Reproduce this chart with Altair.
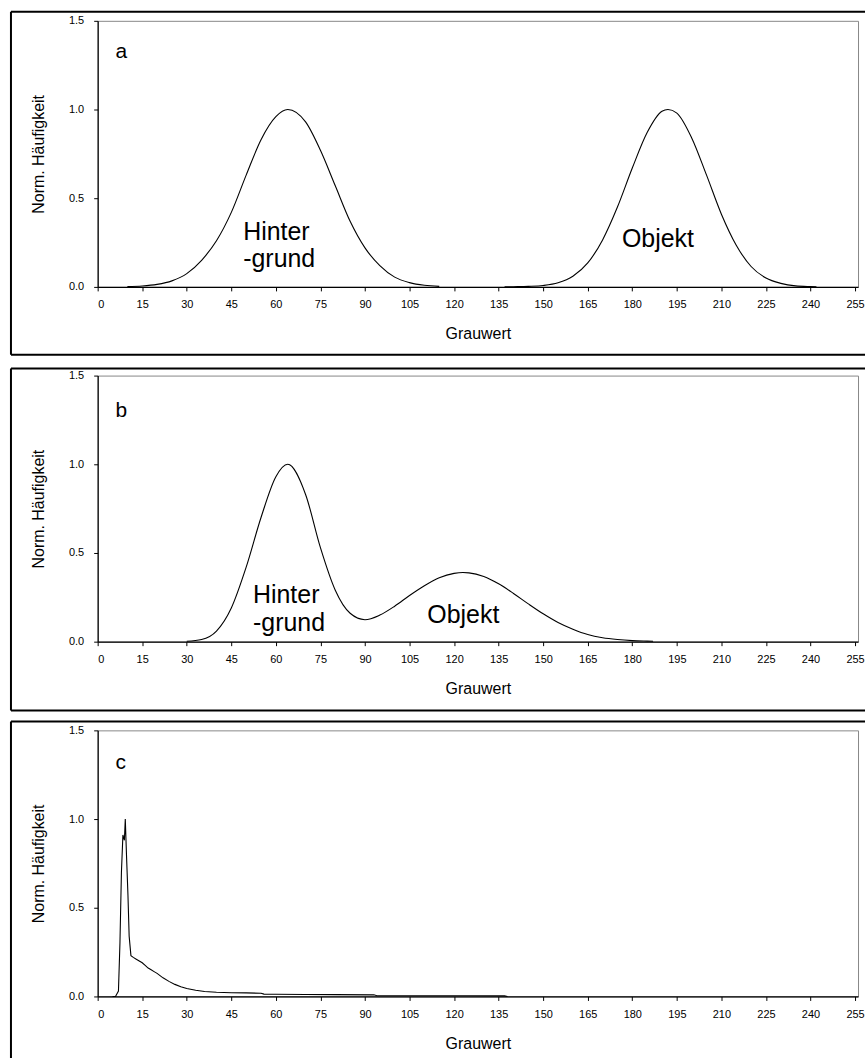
import altair as alt
import pandas as pd

FONT = "Liberation Sans"

# Panel a: two separated peaks
a_bg_x = [10, 15, 20, 25, 30, 35, 40, 45, 50, 55, 60, 64, 70, 75, 80, 85, 90, 95, 100, 105, 110, 115]
a_bg_y = [0.002, 0.005, 0.014, 0.034, 0.075, 0.15, 0.26, 0.42, 0.63, 0.83, 0.96, 1.0, 0.93, 0.77,
          0.57, 0.37, 0.22, 0.12, 0.055, 0.024, 0.009, 0.003]
a_ob_x = [137, 140, 145, 150, 155, 160, 165, 170, 175, 180, 185, 190, 192, 195, 200, 205, 210, 215,
          220, 225, 230, 235, 240, 242]
a_ob_y = [0.0, 0.001, 0.003, 0.008, 0.023, 0.06, 0.135, 0.265, 0.45, 0.67, 0.87, 0.99, 1.0, 0.98,
          0.84, 0.63, 0.41, 0.235, 0.115, 0.05, 0.02, 0.006, 0.002, 0.001]

# Panel b: overlapping peaks
b_x = [30, 35, 40, 45, 50, 55, 60, 64, 70, 75, 80, 85, 90, 95, 100, 105, 110, 115, 120, 123, 125,
       130, 135, 140, 145, 150, 155, 160, 165, 170, 175, 180, 185, 187]
b_y = [0.002, 0.012, 0.06, 0.19, 0.42, 0.70, 0.93, 1.0, 0.83, 0.53, 0.29, 0.16, 0.124, 0.15, 0.2,
       0.26, 0.315, 0.36, 0.385, 0.39, 0.388, 0.367, 0.326, 0.272, 0.213, 0.157, 0.108, 0.07, 0.04,
       0.022, 0.012, 0.006, 0.003, 0.002]

# Panel c: sharp peak with long tail
c_x = [5, 6, 7, 7.5, 8, 8.5, 9, 9.3, 9.7, 10.2, 10.6, 11.2, 12, 13, 14, 15, 16, 17, 18, 19, 20, 22,
       24, 26, 28, 30, 33, 36, 40, 45, 50, 55, 56, 60, 70, 80, 93, 94, 110, 125, 137, 138]
c_y = [0.0, 0.0, 0.03, 0.30, 0.70, 0.91, 0.88, 1.0, 0.80, 0.57, 0.34, 0.23, 0.22, 0.21, 0.20, 0.19,
       0.175, 0.16, 0.15, 0.14, 0.13, 0.105, 0.085, 0.068, 0.055, 0.045, 0.035, 0.028, 0.024, 0.021,
       0.02, 0.018, 0.013, 0.012, 0.011, 0.010, 0.009, 0.004, 0.004, 0.004, 0.003, 0.0]

x_ticks = list(range(0, 256, 15))
y_ticks = [0.0, 0.5, 1.0, 1.5]

# annotations (data coordinates)
a_labels = ["a", "Hinter", "-grund", "Objekt"]
a_lab_x = [6, 49, 49, 176.5]
a_lab_y = [1.29, 0.264, 0.112, 0.225]
a_lab_size = [21, 25, 25, 25]
b_labels = ["b", "Hinter", "-grund", "Objekt"]
b_lab_x = [6, 52.3, 52.3, 111]
b_lab_y = [1.264, 0.219, 0.062, 0.107]
b_lab_size = [21, 25, 25, 25]
c_labels = ["c"]
c_lab_x = [6]
c_lab_y = [1.28]
c_lab_size = [21]

W, H = 763, 267

xs = alt.Scale(domain=[0, 256], nice=False, zero=False)
ys = alt.Scale(domain=[0, 1.5], nice=False)

common = dict(grid=False, domainColor="black", tickColor="black", labelColor="black",
              titleColor="black", labelFont=FONT, labelFontSize=11, titleFont=FONT,
              titleFontSize=16, titleFontWeight="normal", domainWidth=1.2, tickWidth=1)

x_axis = alt.Axis(values=x_ticks, title="Grauwert", titleY=47, titleX=W / 2,
                  titleBaseline="middle", titleAlign="center", labelPadding=8, tickSize=4, **common)
y_axis = alt.Axis(values=y_ticks, format=".1f", title="Norm. Häufigkeit", titleX=-59, titleY=H / 2,
                  titleAngle=270, titleAlign="center", titleBaseline="middle",
                  labelPadding=10, tickSize=4, **common)


def panel(df_line, labels, lx, ly, lsize, box_top, box_bottom):
    line = alt.Chart(df_line).mark_line(color="black", strokeWidth=1.1,
                                        interpolate=df_line["interp"].iloc[0]).encode(
        x=alt.X("x:Q", scale=xs, axis=x_axis),
        y=alt.Y("y:Q", scale=ys, axis=y_axis),
        detail="s:N",
    )
    tdf = pd.DataFrame({"x": lx, "y": ly, "t": labels, "size": lsize})
    text = alt.Chart(tdf).mark_text(align="left", baseline="alphabetic", font=FONT, color="black").encode(
        x=alt.X("x:Q", scale=xs),
        y=alt.Y("y:Q", scale=ys),
        text="t:N",
        size=alt.Size("size:Q", scale=None, legend=None),
    )
    one = pd.DataFrame({"k": [0]})
    rules = [
        alt.Chart(one).mark_rule(color="black", strokeWidth=2).encode(
            x=alt.value(-87), x2=alt.value(770), y=alt.value(box_top)),
        alt.Chart(one).mark_rule(color="black", strokeWidth=2).encode(
            x=alt.value(-87), y=alt.value(box_top), y2=alt.value(box_bottom)),
    ]
    if box_bottom < 340:
        rules.append(alt.Chart(one).mark_rule(color="black", strokeWidth=2).encode(
            x=alt.value(-87), x2=alt.value(770), y=alt.value(box_bottom)))
    return alt.layer(line, text, *rules).properties(width=W, height=H)


df_a = pd.DataFrame({
    "x": a_bg_x + a_ob_x,
    "y": a_bg_y + a_ob_y,
    "s": ["bg"] * len(a_bg_x) + ["ob"] * len(a_ob_x),
})
df_a["interp"] = "monotone"
df_b = pd.DataFrame({"x": b_x, "y": b_y, "s": ["b"] * len(b_x)})
df_b["interp"] = "monotone"
df_c = pd.DataFrame({"x": c_x, "y": c_y, "s": ["c"] * len(c_x)})
df_c["interp"] = "linear"

pa = panel(df_a, a_labels, a_lab_x, a_lab_y, a_lab_size, -9, 335)
pb = panel(df_b, b_labels, b_lab_x, b_lab_y, b_lab_size, -7, 336)
pc = panel(df_c, c_labels, c_lab_x, c_lab_y, c_lab_size, -9, 360)

chart = alt.vconcat(pa, pb, pc, spacing=89, bounds="flush").properties(
    padding={"left": 9, "top": 8, "right": 0, "bottom": 0},
    background="white",
).configure_view(
    stroke="#888888", strokeWidth=1
)

chart.save("out.html", embed_options={"renderer": "svg", "actions": False})
